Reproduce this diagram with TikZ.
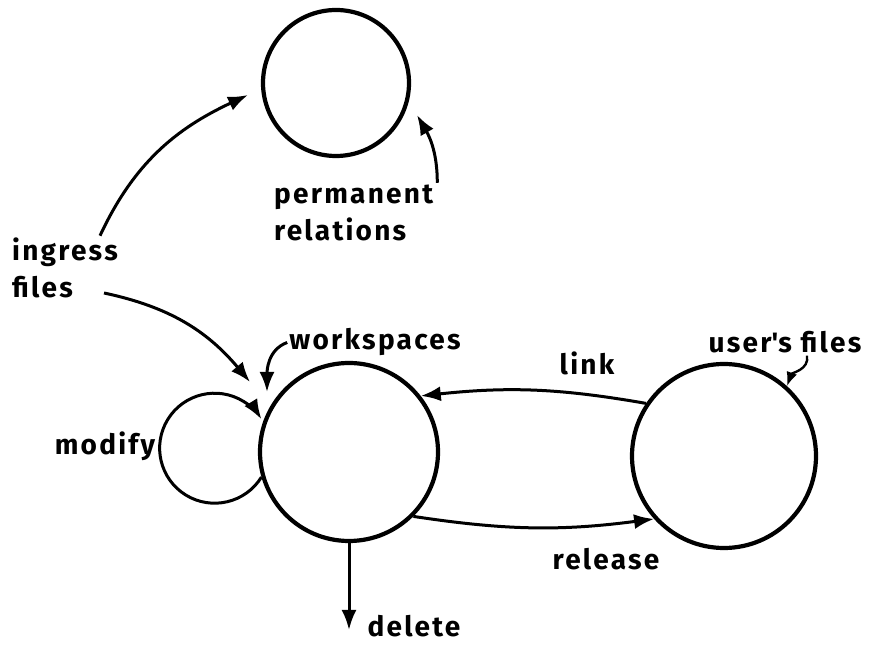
\documentclass[tikz,border=0pt]{standalone}
\usepackage{fontspec}
\setmainfont{Fira Sans}[LetterSpace=8]
\usetikzlibrary{arrows.meta,positioning}

\begin{document}
\begin{tikzpicture}[x=1pt,y=1pt,
  store/.style={draw,circle,line width=4.2pt,inner sep=0pt},
  flow/.style={line width=3pt,-{Latex[length=20pt,width=15pt]}},
  lbl/.style={font=\fontsize{28}{37}\selectfont\bfseries,inner sep=2pt}]
  \useasboundingbox (0,0) rectangle (884,656);

  % the three stores
  \node[store,minimum size=146pt] (perm) at (336,573) {};
  \node[store,minimum size=178pt] (ws) at (349,204) {};
  \node[store,minimum size=184pt] (uf) at (724,200) {};

  % labels
  \node[lbl,align=left,anchor=west] (ingress) at (10,388) {ingress\\files};
  \node[lbl,align=left,anchor=west] (perml) at (272,443) {permanent\\relations};
  \node[lbl,anchor=base] (wsl) at (375,306) {workspaces};
  \node[lbl,anchor=base] (ufl) at (785,303) {user\textquotesingle s files};
  \node[lbl,anchor=base] (link) at (587,281) {link};
  \node[lbl,anchor=base] (release) at (606,86) {release};
  \node[lbl,anchor=base] (modify) at (105,201) {modify};
  \node[lbl,anchor=base] (delete) at (414,19) {delete};
  \coordinate (out) at (349,26);

  % pointers from the labels
  \draw[flow] ([xshift=-20pt]ingress.north east) to[out=65,in=205] ([shift={(-88pt,-12pt)}]perm.center);
  \draw[flow] ([shift={(-16pt,-25pt)}]ingress.east) to[out=-12,in=130] ([shift={(-99pt,70pt)}]ws.center);
  \draw[flow] ([xshift=2pt]perml.north east) to[out=90,in=-60] ([shift={(81pt,-32pt)}]perm.center);
  \draw[flow] (wsl.west) to[out=200,in=90] ([shift={(-82pt,60pt)}]ws.center);
  \draw[flow,line width=2.4pt,-{Latex[length=14pt,width=11pt]}] ([xshift=22pt]ufl.south) to[out=-80,in=70] (uf.48);

  % transitions
  \draw[flow] (ws.196.6) arc[start angle=-31.7,end angle=-328.3,radius=55];
  \draw[flow] (uf.146) to[bend right=8] (ws.38);
  \draw[flow] (ws.-45) to[bend right=8] (uf.222);
  \draw[flow] (ws.south) -- (out);
\end{tikzpicture}
\end{document}
